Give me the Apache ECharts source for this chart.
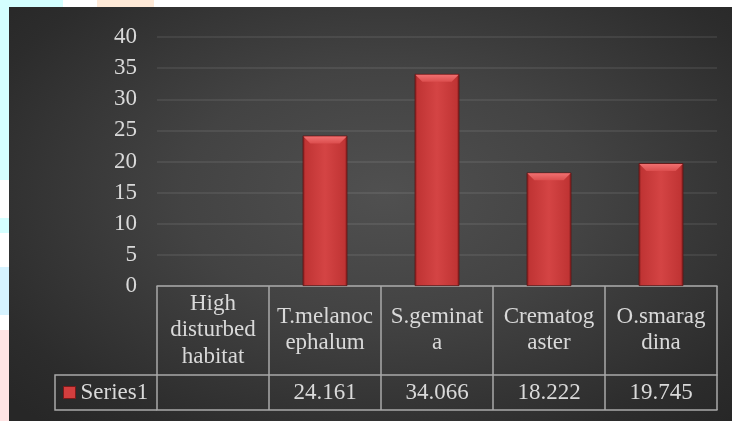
<!DOCTYPE html>
<html>
<head>
<meta charset="utf-8">
<script src="https://cdn.jsdelivr.net/npm/echarts@6/dist/echarts.min.js"></script>
<style>
  html, body { margin: 0; padding: 0; background: #ffffff; }
  #wrap { position: relative; width: 732px; height: 421px; overflow: hidden; background: #ffffff; }
  .deco { position: absolute; }
  #panel { position: absolute; left: 9px; top: 7px; width: 723px; height: 414px;
    background: radial-gradient(ellipse 70% 75% at 52% 45%, #505050 0%, #434343 40%, #2c2c2c 85%, #272727 100%); }
  #chart { position: absolute; left: 0; top: 0; width: 732px; height: 421px; }
</style>
</head>
<body>
<div id="wrap">
  <div class="deco" style="left:0;top:0;width:63px;height:7px;background:#d4ffff"></div>
  <div class="deco" style="left:97px;top:0;width:57px;height:7px;background:#ffead8"></div>
  <div class="deco" style="left:0;top:0;width:9px;height:180px;background:#d4ffff"></div>
  <div class="deco" style="left:0;top:218px;width:9px;height:15px;background:#d4ffff"></div>
  <div class="deco" style="left:0;top:267px;width:9px;height:48px;background:#d6f3ff"></div>
  <div class="deco" style="left:0;top:330px;width:9px;height:91px;background:#ffe4e4"></div>
  <div id="panel"></div>
  <div id="chart"></div>
</div>
<script>
// ---- data ----
const categories = ['High\ndisturbed\nhabitat', 'T.melanoc\nephalum', 'S.geminat\na', 'Crematog\naster', 'O.smarag\ndina'];
const seriesName = 'Series1';
const values = [null, 24.161, 34.066, 18.222, 19.745];
const valueLabels = ['', '24.161', '34.066', '18.222', '19.745'];
const yTicks = { min: 0, max: 40, interval: 5 };

const FONT = 'Liberation Serif';
const TXT = '#d9d9d9';
const LINE = '#a9a9a9';
const gridLeft = 157, gridRight = 15, gridTop = 37, gridBottom = 135;

const chart = echarts.init(document.getElementById('chart'), null, { renderer: 'canvas' });

const barColor = new echarts.graphic.LinearGradient(0, 0, 1, 0, [
  { offset: 0, color: '#7e1a1a' },
  { offset: 0.06, color: '#c03434' },
  { offset: 0.5, color: '#d44444' },
  { offset: 0.94, color: '#c03434' },
  { offset: 1, color: '#7e1a1a' }
]);

const option = {
  backgroundColor: 'transparent',
  animation: false,
  textStyle: { fontFamily: FONT },
  grid: { left: gridLeft, right: gridRight, top: gridTop, bottom: gridBottom, containLabel: false },
  legend: {
    show: true,
    left: 63, top: 381,
    itemWidth: 12, itemHeight: 12, itemGap: 5,
    icon: 'rect',
    data: [seriesName],
    itemStyle: { color: '#d23e3e', borderColor: '#7a1a1a', borderWidth: 1 },
    textStyle: { color: TXT, fontFamily: FONT, fontSize: 23 },
    padding: 0
  },
  xAxis: [
    {
      type: 'category', data: categories, position: 'bottom',
      axisLine: { show: true, lineStyle: { color: LINE, width: 1.5 } },
      axisTick: { show: true, interval: 0, length: 124, lineStyle: { color: LINE, width: 1.5 } },
      axisLabel: { interval: 0, margin: 44, verticalAlign: 'middle', color: TXT, fontFamily: FONT, fontSize: 23, lineHeight: 26.5 },
      splitLine: { show: false }
    },
    {
      type: 'category', data: categories, position: 'bottom', offset: 89,
      axisLine: { show: true, lineStyle: { color: LINE, width: 1.5 } },
      axisTick: { show: false },
      axisLabel: { interval: 0, margin: 17.5, verticalAlign: 'middle', color: TXT, fontFamily: FONT, fontSize: 23,
        formatter: (v, i) => valueLabels[i] },
      splitLine: { show: false }
    },
    {
      type: 'category', data: categories, position: 'bottom', offset: 124,
      axisLine: { show: true, lineStyle: { color: LINE, width: 1.5 } },
      axisTick: { show: false },
      axisLabel: { show: false }
    }
  ],
  yAxis: {
    type: 'value', min: yTicks.min, max: yTicks.max, interval: yTicks.interval,
    axisLine: { show: false }, axisTick: { show: false },
    axisLabel: { color: TXT, fontFamily: FONT, fontSize: 23, margin: 20 },
    splitLine: { show: true, lineStyle: { color: 'rgba(255,255,255,0.1)', width: 1.5 } }
  },
  series: [
    {
      name: seriesName, type: 'bar', xAxisIndex: 0, data: values, barWidth: '40%',
      itemStyle: { color: barColor, borderColor: '#5e1414', borderWidth: 0.8 },
      legendHoverLink: false, z: 2
    },
    {
      // bevel highlight on bar tops, positioned through the axes
      type: 'custom', xAxisIndex: 0, data: values.map((v, i) => [i, v]), silent: true, z: 3,
      renderItem: function (params, api) {
        const v = api.value(1);
        if (v == null || isNaN(v)) return null;
        const top = api.coord([api.value(0), v]);
        const bw = api.size([1, 0])[0] * 0.4;
        const x0 = top[0] - bw / 2 + 0.8, x1 = top[0] + bw / 2 - 0.8;
        const y0 = top[1] + 0.8, d = 7;
        return {
          type: 'polygon',
          shape: { points: [[x0, y0], [x1, y0], [x1 - d, y0 + d], [x0 + d, y0 + d]] },
          style: {
            fill: new echarts.graphic.LinearGradient(0, 0, 0, 1, [
              { offset: 0, color: '#f07070' },
              { offset: 1, color: '#dc4e4e' }
            ])
          }
        };
      }
    }
  ],
  graphic: [{
    type: 'polyline', silent: true,
    shape: { points: [[gridLeft, 375], [55, 375], [55, 410], [gridLeft, 410]] },
    style: { stroke: LINE, lineWidth: 1.5, fill: null }
  }]
};
chart.setOption(option);
</script>
</body>
</html>
